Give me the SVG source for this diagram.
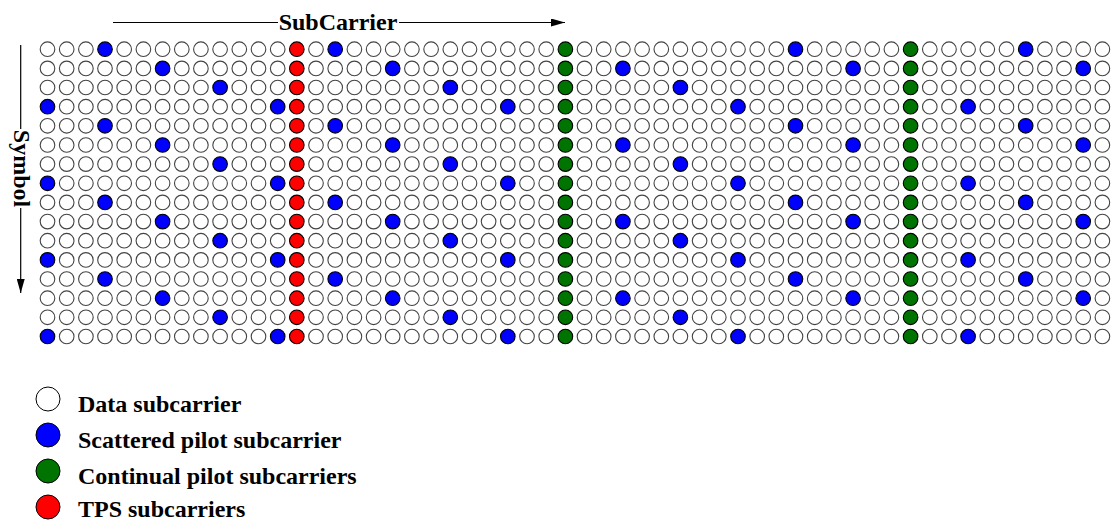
<svg xmlns="http://www.w3.org/2000/svg" width="1116" height="520" viewBox="0 0 1116 520">
<defs>
<style>
.grid circle{r:7.3px;fill:#fff;stroke:#444;stroke-width:1.1}
.grid circle.s{fill:#0000ff;stroke:#000}
.grid circle.c{fill:#007400;stroke:#000}
.grid circle.t{fill:#ff0000;stroke:#000}
.lg circle{stroke:#000;stroke-width:1}
.lbl{font-family:"Liberation Serif","Times New Roman",serif;font-weight:bold;font-size:24px;fill:#000}
.ln{stroke:#000;stroke-width:1.2;fill:none}
</style>
<marker id="ah" viewBox="0 0 14 8" refX="14" refY="4" markerWidth="14" markerHeight="8" markerUnits="userSpaceOnUse" orient="auto">
<path d="M0,0 L14,4 L0,8 z" fill="#000"/>
</marker>
</defs>
<rect width="1116" height="520" fill="#fff"/>
<g id="connectors">
<line class="ln" x1="113" y1="22.5" x2="278" y2="22.5"/>
<line class="ln" x1="399" y1="22.5" x2="565" y2="22.5" marker-end="url(#ah)"/>
<line class="ln" x1="20.7" y1="45" x2="20.7" y2="129"/>
<line class="ln" x1="20.7" y1="208" x2="20.7" y2="293" marker-end="url(#ah)"/>
</g>
<g id="axis-labels">
<text class="lbl" x="338" y="30" text-anchor="middle">SubCarrier</text>
<text class="lbl" transform="translate(14,168.5) rotate(90)" text-anchor="middle">Symbol</text>
</g>
<g class="grid" id="grid">
<g id="row0" transform="translate(0,49.2)"><circle cx="47.5"/><circle cx="66.7"/><circle cx="85.9"/><circle class="s" cx="105"/><circle cx="124.2"/><circle cx="143.4"/><circle cx="162.6"/><circle cx="181.8"/><circle cx="200.9"/><circle cx="220.1"/><circle cx="239.3"/><circle cx="258.5"/><circle cx="277.7"/><circle class="t" cx="296.8"/><circle cx="316"/><circle class="s" cx="335.2"/><circle cx="354.4"/><circle cx="373.6"/><circle cx="392.7"/><circle cx="411.9"/><circle cx="431.1"/><circle cx="450.3"/><circle cx="469.5"/><circle cx="488.6"/><circle cx="507.8"/><circle cx="527"/><circle cx="546.2"/><circle class="c" cx="565.4"/><circle cx="584.5"/><circle cx="603.7"/><circle cx="622.9"/><circle cx="642.1"/><circle cx="661.3"/><circle cx="680.4"/><circle cx="699.6"/><circle cx="718.8"/><circle cx="738"/><circle cx="757.2"/><circle cx="776.3"/><circle class="s" cx="795.5"/><circle cx="814.7"/><circle cx="833.9"/><circle cx="853.1"/><circle cx="872.2"/><circle cx="891.4"/><circle class="c" cx="910.6"/><circle cx="929.8"/><circle cx="949"/><circle cx="968.1"/><circle cx="987.3"/><circle cx="1006.5"/><circle class="s" cx="1025.7"/><circle cx="1044.9"/><circle cx="1064"/><circle cx="1083.2"/><circle cx="1102.4"/></g>
<g id="row1" transform="translate(0,68.4)"><circle cx="47.5"/><circle cx="66.7"/><circle cx="85.9"/><circle cx="105"/><circle cx="124.2"/><circle cx="143.4"/><circle class="s" cx="162.6"/><circle cx="181.8"/><circle cx="200.9"/><circle cx="220.1"/><circle cx="239.3"/><circle cx="258.5"/><circle cx="277.7"/><circle class="t" cx="296.8"/><circle cx="316"/><circle cx="335.2"/><circle cx="354.4"/><circle cx="373.6"/><circle class="s" cx="392.7"/><circle cx="411.9"/><circle cx="431.1"/><circle cx="450.3"/><circle cx="469.5"/><circle cx="488.6"/><circle cx="507.8"/><circle cx="527"/><circle cx="546.2"/><circle class="c" cx="565.4"/><circle cx="584.5"/><circle cx="603.7"/><circle class="s" cx="622.9"/><circle cx="642.1"/><circle cx="661.3"/><circle cx="680.4"/><circle cx="699.6"/><circle cx="718.8"/><circle cx="738"/><circle cx="757.2"/><circle cx="776.3"/><circle cx="795.5"/><circle cx="814.7"/><circle cx="833.9"/><circle class="s" cx="853.1"/><circle cx="872.2"/><circle cx="891.4"/><circle class="c" cx="910.6"/><circle cx="929.8"/><circle cx="949"/><circle cx="968.1"/><circle cx="987.3"/><circle cx="1006.5"/><circle cx="1025.7"/><circle cx="1044.9"/><circle cx="1064"/><circle class="s" cx="1083.2"/><circle cx="1102.4"/></g>
<g id="row2" transform="translate(0,87.5)"><circle cx="47.5"/><circle cx="66.7"/><circle cx="85.9"/><circle cx="105"/><circle cx="124.2"/><circle cx="143.4"/><circle cx="162.6"/><circle cx="181.8"/><circle cx="200.9"/><circle class="s" cx="220.1"/><circle cx="239.3"/><circle cx="258.5"/><circle cx="277.7"/><circle class="t" cx="296.8"/><circle cx="316"/><circle cx="335.2"/><circle cx="354.4"/><circle cx="373.6"/><circle cx="392.7"/><circle cx="411.9"/><circle cx="431.1"/><circle class="s" cx="450.3"/><circle cx="469.5"/><circle cx="488.6"/><circle cx="507.8"/><circle cx="527"/><circle cx="546.2"/><circle class="c" cx="565.4"/><circle cx="584.5"/><circle cx="603.7"/><circle cx="622.9"/><circle cx="642.1"/><circle cx="661.3"/><circle class="s" cx="680.4"/><circle cx="699.6"/><circle cx="718.8"/><circle cx="738"/><circle cx="757.2"/><circle cx="776.3"/><circle cx="795.5"/><circle cx="814.7"/><circle cx="833.9"/><circle cx="853.1"/><circle cx="872.2"/><circle cx="891.4"/><circle class="c" cx="910.6"/><circle cx="929.8"/><circle cx="949"/><circle cx="968.1"/><circle cx="987.3"/><circle cx="1006.5"/><circle cx="1025.7"/><circle cx="1044.9"/><circle cx="1064"/><circle cx="1083.2"/><circle cx="1102.4"/></g>
<g id="row3" transform="translate(0,106.7)"><circle class="s" cx="47.5"/><circle cx="66.7"/><circle cx="85.9"/><circle cx="105"/><circle cx="124.2"/><circle cx="143.4"/><circle cx="162.6"/><circle cx="181.8"/><circle cx="200.9"/><circle cx="220.1"/><circle cx="239.3"/><circle cx="258.5"/><circle class="s" cx="277.7"/><circle class="t" cx="296.8"/><circle cx="316"/><circle cx="335.2"/><circle cx="354.4"/><circle cx="373.6"/><circle cx="392.7"/><circle cx="411.9"/><circle cx="431.1"/><circle cx="450.3"/><circle cx="469.5"/><circle cx="488.6"/><circle class="s" cx="507.8"/><circle cx="527"/><circle cx="546.2"/><circle class="c" cx="565.4"/><circle cx="584.5"/><circle cx="603.7"/><circle cx="622.9"/><circle cx="642.1"/><circle cx="661.3"/><circle cx="680.4"/><circle cx="699.6"/><circle cx="718.8"/><circle class="s" cx="738"/><circle cx="757.2"/><circle cx="776.3"/><circle cx="795.5"/><circle cx="814.7"/><circle cx="833.9"/><circle cx="853.1"/><circle cx="872.2"/><circle cx="891.4"/><circle class="c" cx="910.6"/><circle cx="929.8"/><circle cx="949"/><circle class="s" cx="968.1"/><circle cx="987.3"/><circle cx="1006.5"/><circle cx="1025.7"/><circle cx="1044.9"/><circle cx="1064"/><circle cx="1083.2"/><circle cx="1102.4"/></g>
<g id="row4" transform="translate(0,125.8)"><circle cx="47.5"/><circle cx="66.7"/><circle cx="85.9"/><circle class="s" cx="105"/><circle cx="124.2"/><circle cx="143.4"/><circle cx="162.6"/><circle cx="181.8"/><circle cx="200.9"/><circle cx="220.1"/><circle cx="239.3"/><circle cx="258.5"/><circle cx="277.7"/><circle class="t" cx="296.8"/><circle cx="316"/><circle class="s" cx="335.2"/><circle cx="354.4"/><circle cx="373.6"/><circle cx="392.7"/><circle cx="411.9"/><circle cx="431.1"/><circle cx="450.3"/><circle cx="469.5"/><circle cx="488.6"/><circle cx="507.8"/><circle cx="527"/><circle cx="546.2"/><circle class="c" cx="565.4"/><circle cx="584.5"/><circle cx="603.7"/><circle cx="622.9"/><circle cx="642.1"/><circle cx="661.3"/><circle cx="680.4"/><circle cx="699.6"/><circle cx="718.8"/><circle cx="738"/><circle cx="757.2"/><circle cx="776.3"/><circle class="s" cx="795.5"/><circle cx="814.7"/><circle cx="833.9"/><circle cx="853.1"/><circle cx="872.2"/><circle cx="891.4"/><circle class="c" cx="910.6"/><circle cx="929.8"/><circle cx="949"/><circle cx="968.1"/><circle cx="987.3"/><circle cx="1006.5"/><circle class="s" cx="1025.7"/><circle cx="1044.9"/><circle cx="1064"/><circle cx="1083.2"/><circle cx="1102.4"/></g>
<g id="row5" transform="translate(0,145)"><circle cx="47.5"/><circle cx="66.7"/><circle cx="85.9"/><circle cx="105"/><circle cx="124.2"/><circle cx="143.4"/><circle class="s" cx="162.6"/><circle cx="181.8"/><circle cx="200.9"/><circle cx="220.1"/><circle cx="239.3"/><circle cx="258.5"/><circle cx="277.7"/><circle class="t" cx="296.8"/><circle cx="316"/><circle cx="335.2"/><circle cx="354.4"/><circle cx="373.6"/><circle class="s" cx="392.7"/><circle cx="411.9"/><circle cx="431.1"/><circle cx="450.3"/><circle cx="469.5"/><circle cx="488.6"/><circle cx="507.8"/><circle cx="527"/><circle cx="546.2"/><circle class="c" cx="565.4"/><circle cx="584.5"/><circle cx="603.7"/><circle class="s" cx="622.9"/><circle cx="642.1"/><circle cx="661.3"/><circle cx="680.4"/><circle cx="699.6"/><circle cx="718.8"/><circle cx="738"/><circle cx="757.2"/><circle cx="776.3"/><circle cx="795.5"/><circle cx="814.7"/><circle cx="833.9"/><circle class="s" cx="853.1"/><circle cx="872.2"/><circle cx="891.4"/><circle class="c" cx="910.6"/><circle cx="929.8"/><circle cx="949"/><circle cx="968.1"/><circle cx="987.3"/><circle cx="1006.5"/><circle cx="1025.7"/><circle cx="1044.9"/><circle cx="1064"/><circle class="s" cx="1083.2"/><circle cx="1102.4"/></g>
<g id="row6" transform="translate(0,164.1)"><circle cx="47.5"/><circle cx="66.7"/><circle cx="85.9"/><circle cx="105"/><circle cx="124.2"/><circle cx="143.4"/><circle cx="162.6"/><circle cx="181.8"/><circle cx="200.9"/><circle class="s" cx="220.1"/><circle cx="239.3"/><circle cx="258.5"/><circle cx="277.7"/><circle class="t" cx="296.8"/><circle cx="316"/><circle cx="335.2"/><circle cx="354.4"/><circle cx="373.6"/><circle cx="392.7"/><circle cx="411.9"/><circle cx="431.1"/><circle class="s" cx="450.3"/><circle cx="469.5"/><circle cx="488.6"/><circle cx="507.8"/><circle cx="527"/><circle cx="546.2"/><circle class="c" cx="565.4"/><circle cx="584.5"/><circle cx="603.7"/><circle cx="622.9"/><circle cx="642.1"/><circle cx="661.3"/><circle class="s" cx="680.4"/><circle cx="699.6"/><circle cx="718.8"/><circle cx="738"/><circle cx="757.2"/><circle cx="776.3"/><circle cx="795.5"/><circle cx="814.7"/><circle cx="833.9"/><circle cx="853.1"/><circle cx="872.2"/><circle cx="891.4"/><circle class="c" cx="910.6"/><circle cx="929.8"/><circle cx="949"/><circle cx="968.1"/><circle cx="987.3"/><circle cx="1006.5"/><circle cx="1025.7"/><circle cx="1044.9"/><circle cx="1064"/><circle cx="1083.2"/><circle cx="1102.4"/></g>
<g id="row7" transform="translate(0,183.3)"><circle class="s" cx="47.5"/><circle cx="66.7"/><circle cx="85.9"/><circle cx="105"/><circle cx="124.2"/><circle cx="143.4"/><circle cx="162.6"/><circle cx="181.8"/><circle cx="200.9"/><circle cx="220.1"/><circle cx="239.3"/><circle cx="258.5"/><circle class="s" cx="277.7"/><circle class="t" cx="296.8"/><circle cx="316"/><circle cx="335.2"/><circle cx="354.4"/><circle cx="373.6"/><circle cx="392.7"/><circle cx="411.9"/><circle cx="431.1"/><circle cx="450.3"/><circle cx="469.5"/><circle cx="488.6"/><circle class="s" cx="507.8"/><circle cx="527"/><circle cx="546.2"/><circle class="c" cx="565.4"/><circle cx="584.5"/><circle cx="603.7"/><circle cx="622.9"/><circle cx="642.1"/><circle cx="661.3"/><circle cx="680.4"/><circle cx="699.6"/><circle cx="718.8"/><circle class="s" cx="738"/><circle cx="757.2"/><circle cx="776.3"/><circle cx="795.5"/><circle cx="814.7"/><circle cx="833.9"/><circle cx="853.1"/><circle cx="872.2"/><circle cx="891.4"/><circle class="c" cx="910.6"/><circle cx="929.8"/><circle cx="949"/><circle class="s" cx="968.1"/><circle cx="987.3"/><circle cx="1006.5"/><circle cx="1025.7"/><circle cx="1044.9"/><circle cx="1064"/><circle cx="1083.2"/><circle cx="1102.4"/></g>
<g id="row8" transform="translate(0,202.4)"><circle cx="47.5"/><circle cx="66.7"/><circle cx="85.9"/><circle class="s" cx="105"/><circle cx="124.2"/><circle cx="143.4"/><circle cx="162.6"/><circle cx="181.8"/><circle cx="200.9"/><circle cx="220.1"/><circle cx="239.3"/><circle cx="258.5"/><circle cx="277.7"/><circle class="t" cx="296.8"/><circle cx="316"/><circle class="s" cx="335.2"/><circle cx="354.4"/><circle cx="373.6"/><circle cx="392.7"/><circle cx="411.9"/><circle cx="431.1"/><circle cx="450.3"/><circle cx="469.5"/><circle cx="488.6"/><circle cx="507.8"/><circle cx="527"/><circle cx="546.2"/><circle class="c" cx="565.4"/><circle cx="584.5"/><circle cx="603.7"/><circle cx="622.9"/><circle cx="642.1"/><circle cx="661.3"/><circle cx="680.4"/><circle cx="699.6"/><circle cx="718.8"/><circle cx="738"/><circle cx="757.2"/><circle cx="776.3"/><circle class="s" cx="795.5"/><circle cx="814.7"/><circle cx="833.9"/><circle cx="853.1"/><circle cx="872.2"/><circle cx="891.4"/><circle class="c" cx="910.6"/><circle cx="929.8"/><circle cx="949"/><circle cx="968.1"/><circle cx="987.3"/><circle cx="1006.5"/><circle class="s" cx="1025.7"/><circle cx="1044.9"/><circle cx="1064"/><circle cx="1083.2"/><circle cx="1102.4"/></g>
<g id="row9" transform="translate(0,221.6)"><circle cx="47.5"/><circle cx="66.7"/><circle cx="85.9"/><circle cx="105"/><circle cx="124.2"/><circle cx="143.4"/><circle class="s" cx="162.6"/><circle cx="181.8"/><circle cx="200.9"/><circle cx="220.1"/><circle cx="239.3"/><circle cx="258.5"/><circle cx="277.7"/><circle class="t" cx="296.8"/><circle cx="316"/><circle cx="335.2"/><circle cx="354.4"/><circle cx="373.6"/><circle class="s" cx="392.7"/><circle cx="411.9"/><circle cx="431.1"/><circle cx="450.3"/><circle cx="469.5"/><circle cx="488.6"/><circle cx="507.8"/><circle cx="527"/><circle cx="546.2"/><circle class="c" cx="565.4"/><circle cx="584.5"/><circle cx="603.7"/><circle class="s" cx="622.9"/><circle cx="642.1"/><circle cx="661.3"/><circle cx="680.4"/><circle cx="699.6"/><circle cx="718.8"/><circle cx="738"/><circle cx="757.2"/><circle cx="776.3"/><circle cx="795.5"/><circle cx="814.7"/><circle cx="833.9"/><circle class="s" cx="853.1"/><circle cx="872.2"/><circle cx="891.4"/><circle class="c" cx="910.6"/><circle cx="929.8"/><circle cx="949"/><circle cx="968.1"/><circle cx="987.3"/><circle cx="1006.5"/><circle cx="1025.7"/><circle cx="1044.9"/><circle cx="1064"/><circle class="s" cx="1083.2"/><circle cx="1102.4"/></g>
<g id="row10" transform="translate(0,240.7)"><circle cx="47.5"/><circle cx="66.7"/><circle cx="85.9"/><circle cx="105"/><circle cx="124.2"/><circle cx="143.4"/><circle cx="162.6"/><circle cx="181.8"/><circle cx="200.9"/><circle class="s" cx="220.1"/><circle cx="239.3"/><circle cx="258.5"/><circle cx="277.7"/><circle class="t" cx="296.8"/><circle cx="316"/><circle cx="335.2"/><circle cx="354.4"/><circle cx="373.6"/><circle cx="392.7"/><circle cx="411.9"/><circle cx="431.1"/><circle class="s" cx="450.3"/><circle cx="469.5"/><circle cx="488.6"/><circle cx="507.8"/><circle cx="527"/><circle cx="546.2"/><circle class="c" cx="565.4"/><circle cx="584.5"/><circle cx="603.7"/><circle cx="622.9"/><circle cx="642.1"/><circle cx="661.3"/><circle class="s" cx="680.4"/><circle cx="699.6"/><circle cx="718.8"/><circle cx="738"/><circle cx="757.2"/><circle cx="776.3"/><circle cx="795.5"/><circle cx="814.7"/><circle cx="833.9"/><circle cx="853.1"/><circle cx="872.2"/><circle cx="891.4"/><circle class="c" cx="910.6"/><circle cx="929.8"/><circle cx="949"/><circle cx="968.1"/><circle cx="987.3"/><circle cx="1006.5"/><circle cx="1025.7"/><circle cx="1044.9"/><circle cx="1064"/><circle cx="1083.2"/><circle cx="1102.4"/></g>
<g id="row11" transform="translate(0,259.9)"><circle class="s" cx="47.5"/><circle cx="66.7"/><circle cx="85.9"/><circle cx="105"/><circle cx="124.2"/><circle cx="143.4"/><circle cx="162.6"/><circle cx="181.8"/><circle cx="200.9"/><circle cx="220.1"/><circle cx="239.3"/><circle cx="258.5"/><circle class="s" cx="277.7"/><circle class="t" cx="296.8"/><circle cx="316"/><circle cx="335.2"/><circle cx="354.4"/><circle cx="373.6"/><circle cx="392.7"/><circle cx="411.9"/><circle cx="431.1"/><circle cx="450.3"/><circle cx="469.5"/><circle cx="488.6"/><circle class="s" cx="507.8"/><circle cx="527"/><circle cx="546.2"/><circle class="c" cx="565.4"/><circle cx="584.5"/><circle cx="603.7"/><circle cx="622.9"/><circle cx="642.1"/><circle cx="661.3"/><circle cx="680.4"/><circle cx="699.6"/><circle cx="718.8"/><circle class="s" cx="738"/><circle cx="757.2"/><circle cx="776.3"/><circle cx="795.5"/><circle cx="814.7"/><circle cx="833.9"/><circle cx="853.1"/><circle cx="872.2"/><circle cx="891.4"/><circle class="c" cx="910.6"/><circle cx="929.8"/><circle cx="949"/><circle class="s" cx="968.1"/><circle cx="987.3"/><circle cx="1006.5"/><circle cx="1025.7"/><circle cx="1044.9"/><circle cx="1064"/><circle cx="1083.2"/><circle cx="1102.4"/></g>
<g id="row12" transform="translate(0,279)"><circle cx="47.5"/><circle cx="66.7"/><circle cx="85.9"/><circle class="s" cx="105"/><circle cx="124.2"/><circle cx="143.4"/><circle cx="162.6"/><circle cx="181.8"/><circle cx="200.9"/><circle cx="220.1"/><circle cx="239.3"/><circle cx="258.5"/><circle cx="277.7"/><circle class="t" cx="296.8"/><circle cx="316"/><circle class="s" cx="335.2"/><circle cx="354.4"/><circle cx="373.6"/><circle cx="392.7"/><circle cx="411.9"/><circle cx="431.1"/><circle cx="450.3"/><circle cx="469.5"/><circle cx="488.6"/><circle cx="507.8"/><circle cx="527"/><circle cx="546.2"/><circle class="c" cx="565.4"/><circle cx="584.5"/><circle cx="603.7"/><circle cx="622.9"/><circle cx="642.1"/><circle cx="661.3"/><circle cx="680.4"/><circle cx="699.6"/><circle cx="718.8"/><circle cx="738"/><circle cx="757.2"/><circle cx="776.3"/><circle class="s" cx="795.5"/><circle cx="814.7"/><circle cx="833.9"/><circle cx="853.1"/><circle cx="872.2"/><circle cx="891.4"/><circle class="c" cx="910.6"/><circle cx="929.8"/><circle cx="949"/><circle cx="968.1"/><circle cx="987.3"/><circle cx="1006.5"/><circle class="s" cx="1025.7"/><circle cx="1044.9"/><circle cx="1064"/><circle cx="1083.2"/><circle cx="1102.4"/></g>
<g id="row13" transform="translate(0,298.2)"><circle cx="47.5"/><circle cx="66.7"/><circle cx="85.9"/><circle cx="105"/><circle cx="124.2"/><circle cx="143.4"/><circle class="s" cx="162.6"/><circle cx="181.8"/><circle cx="200.9"/><circle cx="220.1"/><circle cx="239.3"/><circle cx="258.5"/><circle cx="277.7"/><circle class="t" cx="296.8"/><circle cx="316"/><circle cx="335.2"/><circle cx="354.4"/><circle cx="373.6"/><circle class="s" cx="392.7"/><circle cx="411.9"/><circle cx="431.1"/><circle cx="450.3"/><circle cx="469.5"/><circle cx="488.6"/><circle cx="507.8"/><circle cx="527"/><circle cx="546.2"/><circle class="c" cx="565.4"/><circle cx="584.5"/><circle cx="603.7"/><circle class="s" cx="622.9"/><circle cx="642.1"/><circle cx="661.3"/><circle cx="680.4"/><circle cx="699.6"/><circle cx="718.8"/><circle cx="738"/><circle cx="757.2"/><circle cx="776.3"/><circle cx="795.5"/><circle cx="814.7"/><circle cx="833.9"/><circle class="s" cx="853.1"/><circle cx="872.2"/><circle cx="891.4"/><circle class="c" cx="910.6"/><circle cx="929.8"/><circle cx="949"/><circle cx="968.1"/><circle cx="987.3"/><circle cx="1006.5"/><circle cx="1025.7"/><circle cx="1044.9"/><circle cx="1064"/><circle class="s" cx="1083.2"/><circle cx="1102.4"/></g>
<g id="row14" transform="translate(0,317.3)"><circle cx="47.5"/><circle cx="66.7"/><circle cx="85.9"/><circle cx="105"/><circle cx="124.2"/><circle cx="143.4"/><circle cx="162.6"/><circle cx="181.8"/><circle cx="200.9"/><circle class="s" cx="220.1"/><circle cx="239.3"/><circle cx="258.5"/><circle cx="277.7"/><circle class="t" cx="296.8"/><circle cx="316"/><circle cx="335.2"/><circle cx="354.4"/><circle cx="373.6"/><circle cx="392.7"/><circle cx="411.9"/><circle cx="431.1"/><circle class="s" cx="450.3"/><circle cx="469.5"/><circle cx="488.6"/><circle cx="507.8"/><circle cx="527"/><circle cx="546.2"/><circle class="c" cx="565.4"/><circle cx="584.5"/><circle cx="603.7"/><circle cx="622.9"/><circle cx="642.1"/><circle cx="661.3"/><circle class="s" cx="680.4"/><circle cx="699.6"/><circle cx="718.8"/><circle cx="738"/><circle cx="757.2"/><circle cx="776.3"/><circle cx="795.5"/><circle cx="814.7"/><circle cx="833.9"/><circle cx="853.1"/><circle cx="872.2"/><circle cx="891.4"/><circle class="c" cx="910.6"/><circle cx="929.8"/><circle cx="949"/><circle cx="968.1"/><circle cx="987.3"/><circle cx="1006.5"/><circle cx="1025.7"/><circle cx="1044.9"/><circle cx="1064"/><circle cx="1083.2"/><circle cx="1102.4"/></g>
<g id="row15" transform="translate(0,336.5)"><circle class="s" cx="47.5"/><circle cx="66.7"/><circle cx="85.9"/><circle cx="105"/><circle cx="124.2"/><circle cx="143.4"/><circle cx="162.6"/><circle cx="181.8"/><circle cx="200.9"/><circle cx="220.1"/><circle cx="239.3"/><circle cx="258.5"/><circle class="s" cx="277.7"/><circle class="t" cx="296.8"/><circle cx="316"/><circle cx="335.2"/><circle cx="354.4"/><circle cx="373.6"/><circle cx="392.7"/><circle cx="411.9"/><circle cx="431.1"/><circle cx="450.3"/><circle cx="469.5"/><circle cx="488.6"/><circle class="s" cx="507.8"/><circle cx="527"/><circle cx="546.2"/><circle class="c" cx="565.4"/><circle cx="584.5"/><circle cx="603.7"/><circle cx="622.9"/><circle cx="642.1"/><circle cx="661.3"/><circle cx="680.4"/><circle cx="699.6"/><circle cx="718.8"/><circle class="s" cx="738"/><circle cx="757.2"/><circle cx="776.3"/><circle cx="795.5"/><circle cx="814.7"/><circle cx="833.9"/><circle cx="853.1"/><circle cx="872.2"/><circle cx="891.4"/><circle class="c" cx="910.6"/><circle cx="929.8"/><circle cx="949"/><circle class="s" cx="968.1"/><circle cx="987.3"/><circle cx="1006.5"/><circle cx="1025.7"/><circle cx="1044.9"/><circle cx="1064"/><circle cx="1083.2"/><circle cx="1102.4"/></g>
</g>
<g class="lg" id="legend">
<g id="legend-data"><circle cx="48" cy="399" r="12" fill="#fff"/><text class="lbl" x="78" y="411.5">Data subcarrier</text></g>
<g id="legend-scattered"><circle cx="48" cy="435" r="12" fill="#0000ff"/><text class="lbl" x="78" y="447.5">Scattered pilot subcarrier</text></g>
<g id="legend-continual"><circle cx="48" cy="471" r="12" fill="#007400"/><text class="lbl" x="78" y="483.5">Continual pilot subcarriers</text></g>
<g id="legend-tps"><circle cx="48" cy="507" r="12" fill="#ff0000"/><text class="lbl" x="78" y="517">TPS subcarriers</text></g>
</g>
</svg>
